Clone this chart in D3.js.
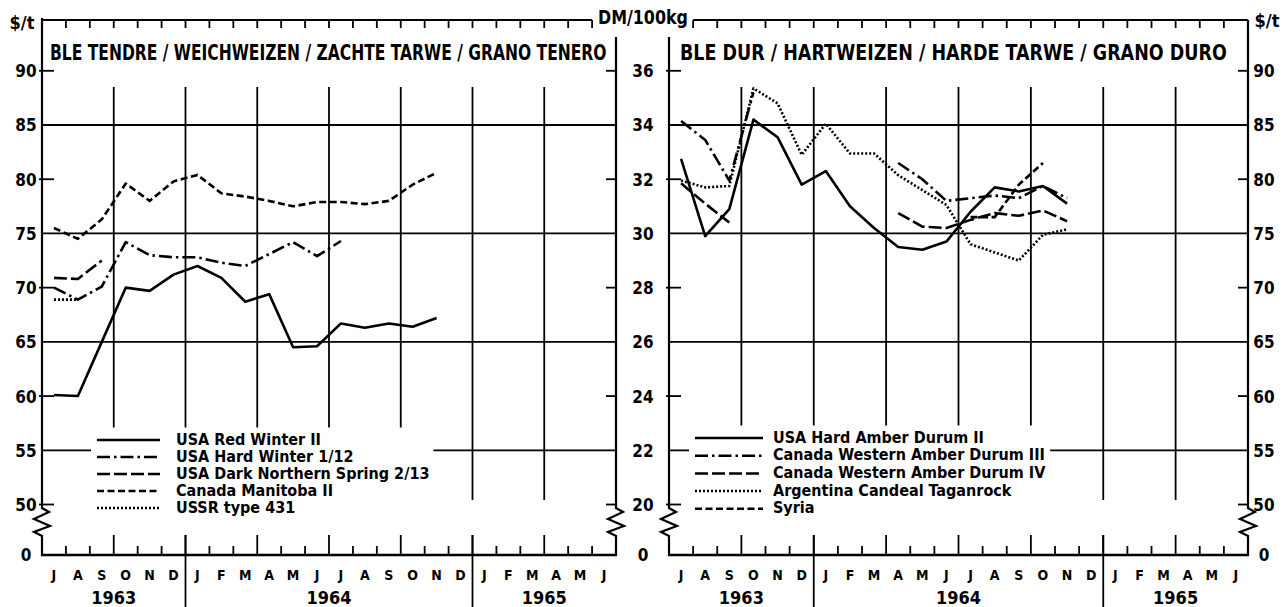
<!DOCTYPE html>
<html><head><meta charset="utf-8">
<script src="https://cdn.jsdelivr.net/npm/d3@7"></script>
<style>
body{margin:0;background:#fff}
svg{display:block}
text{font-family:"DejaVu Sans Condensed","DejaVu Sans",sans-serif;font-weight:bold;fill:#000}
</style>
</head><body>
<svg id="c" width="1286" height="607"></svg>
<script>
// ---------- data ----------
const months = ["J","A","S","O","N","D","J","F","M","A","M","J","J","A","S","O","N","D","J","F","M","A","M","J"];
const years = [{label:"1963",from:0,to:6},{label:"1964",from:6,to:18},{label:"1965",from:18,to:24}];
const usdTicks = [90,85,80,75,70,65,60,55,50];
const usdGrid = [85,75,65,55];
const dmTicks = [36,34,32,30,28,26,24,22,20];
const titleLeft = "BLE TENDRE / WEICHWEIZEN / ZACHTE TARWE / GRANO TENERO";
const titleRight = "BLE DUR / HARTWEIZEN / HARDE TARWE / GRANO DURO";

// Soft wheat, $/t, monthly from July 1963
const softNames = ["USA Red Winter II","USA Hard Winter  1/12","USA Dark Northern Spring  2/13","Canada Manitoba II","USSR type 431"];
const softStyles = ["solid","dashdot","longdash","dash","dot"];
const usaRedWinter   = [60.1,60.0,65.0,70.0,69.7,71.2,72.0,70.9,68.7,69.4,64.5,64.6,66.7,66.3,66.7,66.4,67.2];
const usaHardWinter  = [70.0,68.9,70.1,74.2,73.0,72.8,72.8,72.3,72.0,73.1,74.2,72.9,74.3];
const usaDarkNorth   = [70.9,70.8,72.5];
const canadaManitoba = [75.5,74.5,76.3,79.6,78.0,79.8,80.4,78.7,78.4,78.0,77.5,77.9,77.9,77.7,78.0,79.5,80.6];
const ussr431        = [68.9,68.9];

// Durum wheat, DM/100kg, monthly from July 1963
const durumNames = ["USA Hard Amber Durum II","Canada Western Amber Durum III","Canada Western Amber Durum IV","Argentina Candeal Taganrock","Syria"];
const durumStyles = ["solid","dashdot","longdash","dot","dash"];
const usaHardAmber = [32.75,29.9,30.9,34.2,33.55,31.8,32.3,31.0,30.2,29.5,29.4,29.7,30.8,31.7,31.55,31.75,31.1];
const canadaWAD3   = [34.15,33.45,31.95,35.2,null,null,null,null,null,32.6,32.0,31.2,31.3,31.4,31.3,31.75,31.3];
const canadaWAD4   = [31.85,31.1,30.4,null,null,null,null,null,null,30.75,30.25,30.2,30.5,30.75,30.65,30.85,30.45];
const argentina    = [31.95,31.7,31.75,35.35,34.8,32.9,34.05,32.95,32.95,32.15,31.6,31.05,29.6,29.3,29.0,29.95,30.15];
const syria        = [null,null,null,null,null,null,null,null,null,null,null,null,30.6,30.6,31.8,32.6];

const softSeries = [usaRedWinter,usaHardWinter,usaDarkNorth,canadaManitoba,ussr431];
const durumSeries = [usaHardAmber,canadaWAD3,canadaWAD4,argentina,syria];

// ---------- layout ----------
const W = 1286, H = 607;
const frameTop = 20, innerTop = 37, baseY = 555, gridTop = 87, gridBottom = 500;
const breakTop = 508, breakBot = 536;
const dash = {solid:null, dashdot:"13,4,2.5,4", longdash:"13,4", dash:"7,3.5", dot:"2,2"};

const svg = d3.select("#c");
const yUsd = d3.scaleLinear().domain([0,50,90]).range([baseY,504.5,70.8]);
const yDm  = d3.scaleLinear().domain([0,20,36]).range([baseY,504.5,70.8]);
const xL = d3.scaleLinear().domain([0,24]).range([42,616]);
const xR = d3.scaleLinear().domain([0,24]).range([669,1248]);

const g = svg.append("g");
function line(x1,y1,x2,y2,w){ g.append("line").attr("x1",x1).attr("y1",y1).attr("x2",x2).attr("y2",y2)
  .attr("stroke","#000").attr("stroke-width",w||2); }
function axisWithBreak(x, top){
  const p = d3.path();
  p.moveTo(x, top); p.lineTo(x, breakTop);
  p.lineTo(x+7, breakTop+4); p.lineTo(x-8, breakTop+11); p.lineTo(x+8, breakTop+18);
  p.lineTo(x-8, breakTop+24); p.lineTo(x, breakBot); p.lineTo(x, baseY+1);
  g.append("path").attr("d",p.toString()).attr("fill","none").attr("stroke","#000").attr("stroke-width",2.2);
}

function panel(xs, leftTop, rightTop, topFrom, topTo){
  const x0 = xs.range()[0], x1 = xs.range()[1];
  usdGrid.forEach(v => line(x0, yUsd(v), x1, yUsd(v), 1.8));
  usdTicks.filter(v => !usdGrid.includes(v)).forEach(v => {
    line(x0 - 3, yUsd(v), x0 + 12, yUsd(v), 1.8);
    line(x1 - 10, yUsd(v), x1, yUsd(v), 1.8);
  });
  for (let k=3;k<24;k+=3) line(xs(k), gridTop, xs(k), gridBottom, 1.8);
  line(xs(topFrom), frameTop, xs(topTo), frameTop, 2.2);
  for (let k=Math.max(1,topFrom);k<=Math.min(23,topTo);k++) line(xs(k), frameTop, xs(k), frameTop+8, 1.8);
  line(x0-1, baseY, x1+1, baseY, 2.5);
  for (let k=1;k<24;k++){
    const major = k%3===0;
    line(xs(k), major?535:546, xs(k), baseY, 1.8);
  }
  years.forEach(yr => { if (yr.from>0) line(xs(yr.from), 535, xs(yr.from), H, 1.8); });
  axisWithBreak(x0, leftTop);
  axisWithBreak(x1, rightTop);
  g.selectAll(null).data(months).enter().append("text")
    .attr("x",(d,i)=>xs(i+0.5)).attr("y",575).attr("text-anchor","middle").attr("dominant-baseline","central")
    .style("font-size","14px").text(d=>d);
  g.selectAll(null).data(years).enter().append("text")
    .attr("x",d=>xs((d.from+d.to)/2)).attr("y",597).attr("text-anchor","middle").attr("dominant-baseline","central")
    .style("font-size","18px").text(d=>d.label);
}

panel(xL, frameTop-2, innerTop, 0, 23);
panel(xR, innerTop, frameTop, 1, 24);

function labelAxis(scale, values, xpos){
  const a = d3.axisLeft(scale).tickValues(values).tickSize(0).tickFormat(d=>String(d));
  const ag = svg.append("g").attr("transform",`translate(${xpos},0)`).call(a);
  ag.select(".domain").remove();
  ag.attr("font-family",null).attr("font-size",null);
  ag.selectAll("text").attr("x",0).attr("dy","0.35em").attr("text-anchor","middle")
    .style("font-size","17px").attr("fill","#000");
}
labelAxis(yUsd, usdTicks.concat([0]), 26);
labelAxis(yDm, dmTicks.concat([0]), 643);
labelAxis(yUsd, usdTicks.concat([0]), 1264);

// fitted text: scale horizontally to a target width
function fitText(x, y, size, width, str){
  const t = svg.append("text").attr("x",0).attr("y",0).style("font-size",size+"px").text(str);
  const w = t.node().getComputedTextLength();
  t.attr("transform",`translate(${x},${y}) scale(${width/w},1)`);
  return t;
}
svg.append("text").attr("x",22).attr("y",22).attr("text-anchor","middle").attr("dominant-baseline","central").style("font-size","18px").text("$/t");
fitText(598, 24, 19, 90, "DM/100kg");
svg.append("text").attr("x",1267).attr("y",20).attr("text-anchor","middle").attr("dominant-baseline","central").style("font-size","18px").text("$/t");

fitText(50, 60, 20.5, 557, titleLeft);
fitText(680, 60, 20.5, 547, titleRight);

function legend(names, styles, lx1, lx2, tx, y0, dy){
  const lg = svg.append("g");
  const bg = lg.append("rect").attr("fill","#fff");
  const items = lg.selectAll("g.it").data(names).enter().append("g").attr("class","it")
    .attr("transform",(d,i)=>`translate(0,${y0+i*dy})`);
  items.append("line").attr("x1",lx1).attr("x2",lx2).attr("y1",1).attr("y2",1)
    .attr("stroke","#000").attr("stroke-width",2.5).attr("stroke-dasharray",(d,i)=>dash[styles[i]]);
  items.append("text").attr("x",tx).attr("y",0).attr("dominant-baseline","central").style("font-size","16px").text(d=>d);
  const b = lg.node().getBBox();
  bg.attr("x",b.x-6).attr("y",b.y-2).attr("width",b.width+10).attr("height",b.height+4);
}
legend(softNames, softStyles, 97, 160, 176, 439, 17);
legend(durumNames, durumStyles, 695, 763, 773, 437, 17.7);

function drawSeries(xs, ys, series, styles){
  series.forEach((s,k)=>{
    svg.append("path").attr("d", d3.line().defined(d=>d.v!=null).x(d=>xs(d.i+0.5)).y(d=>ys(d.v))(s.map((v,i)=>({v,i}))))
      .attr("fill","none").attr("stroke","#000").attr("stroke-width",2.6)
      .attr("stroke-linejoin","round").attr("stroke-dasharray",dash[styles[k]]);
  });
}
drawSeries(xL, yUsd, softSeries, softStyles);
drawSeries(xR, yDm, durumSeries, durumStyles);
</script>
</body></html>
